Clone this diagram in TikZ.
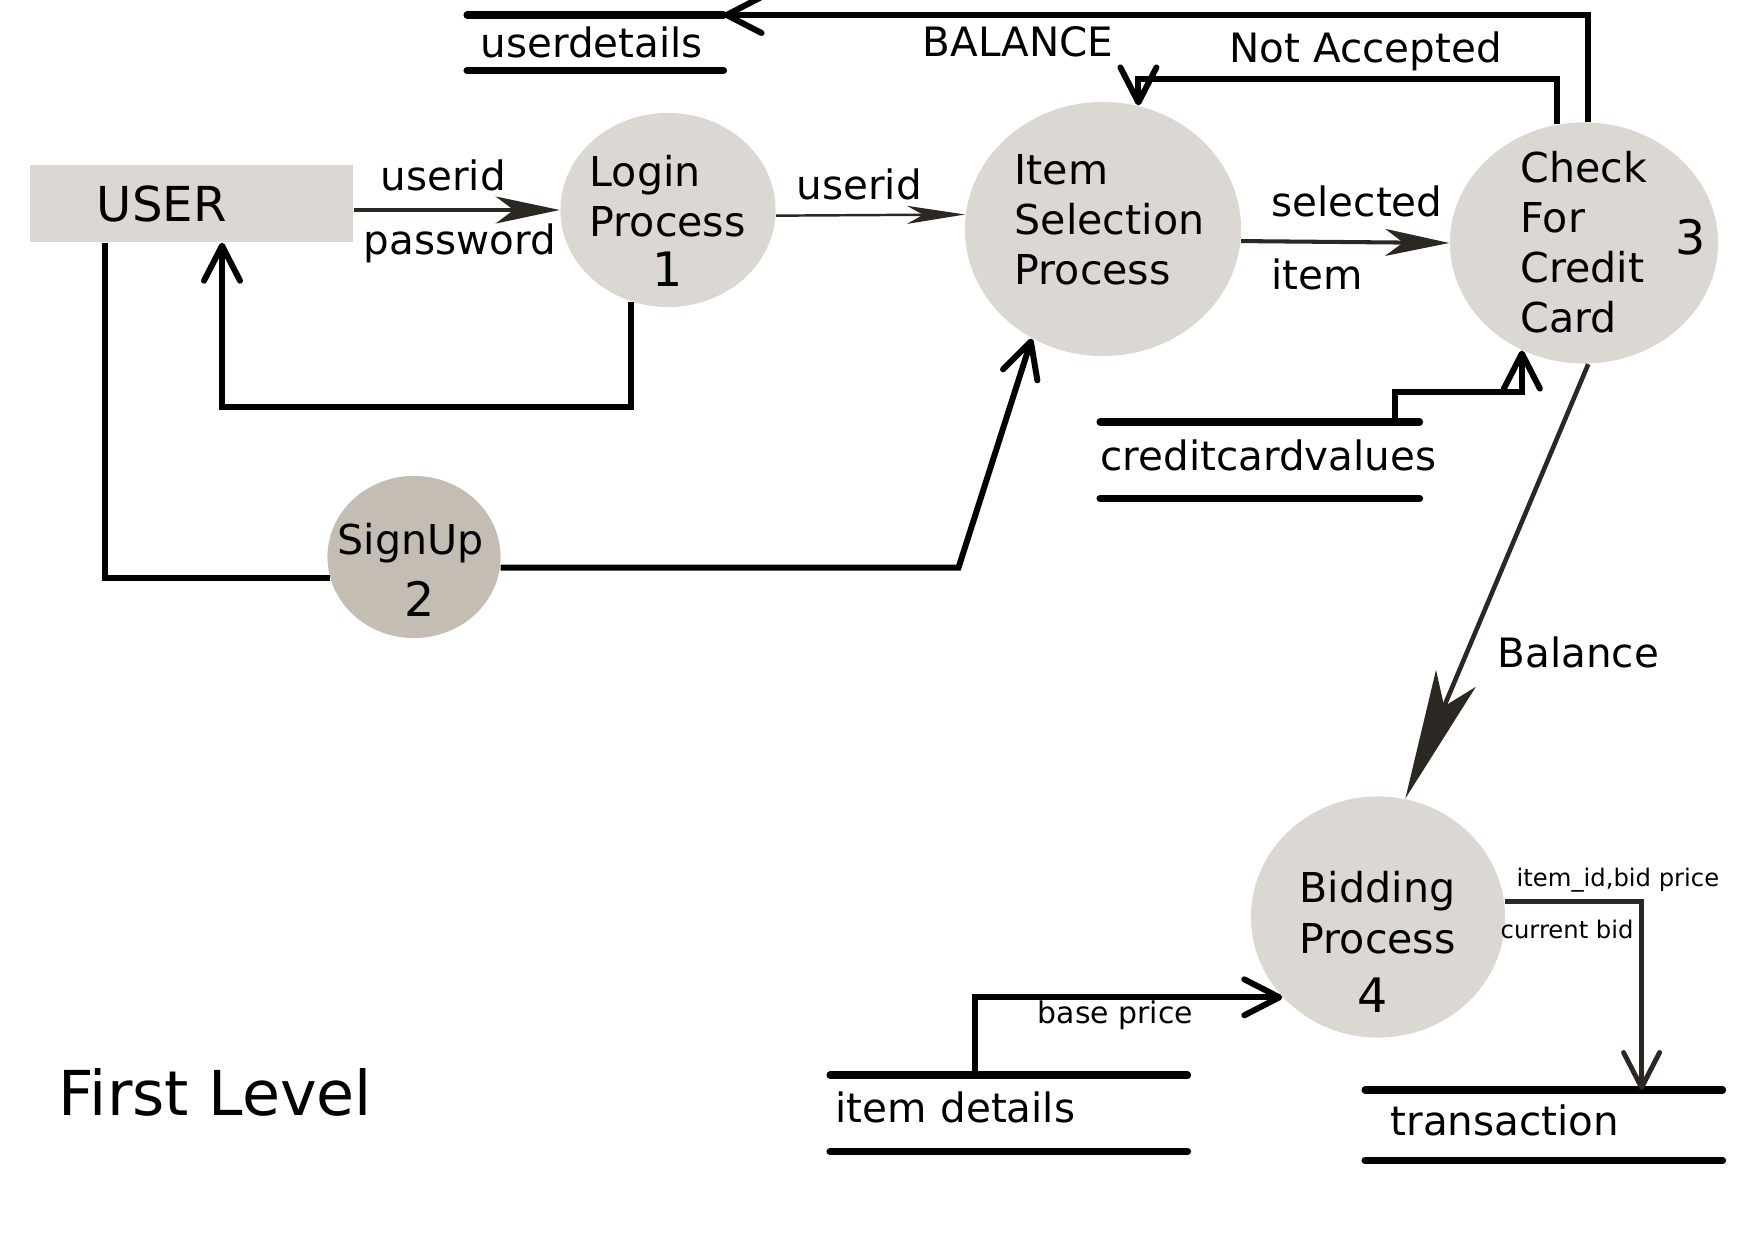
\documentclass[tikz,border=0pt]{standalone}
\usepackage{fontspec}
\setmainfont{DejaVu Sans}
\usetikzlibrary{shapes.geometric,arrows.meta,positioning,calc}
\definecolor{procgray}{RGB}{219,216,211}
\definecolor{signgray}{RGB}{195,189,180}
\definecolor{darkline}{RGB}{43,40,36}

\tikzset{
  proc/.style={ellipse, fill=procgray, inner sep=0pt},
  ptext/.style={font=\fontsize{11.7}{14.3}\selectfont, inner sep=0pt, align=left},
  pnum/.style={font=\fontsize{13.5}{15}\selectfont, inner sep=0pt},
  lbl/.style={font=\fontsize{11.5}{13}\selectfont, inner sep=0pt},
  smalllbl/.style={font=\fontsize{6.9}{8}\selectfont, inner sep=0pt},
  datastore/.style={font=\fontsize{11.5}{13}\selectfont, inner ysep=0pt, align=left, anchor=north west},
  storeline/.style={line width=2pt, line cap=round},
  flow/.style={line width=1.7pt, -{Straight Barb[length=3.5mm,width=3.6mm,round]}},
  link/.style={line width=1.7pt},
  solidflow/.style={darkline, -{Stealth[length=6.4mm,width=2.7mm,inset=1.8mm]}}
}

\begin{document}
\begin{tikzpicture}[x=0.01cm, y=-0.01cm]
  \useasboundingbox (0,0) rectangle (1754,1240);

  % entity and processes
  \node[fill=procgray, minimum height=0.77cm, text width=1.89cm, inner xsep=0.67cm, inner ysep=0pt,
    align=left, font=\fontsize{13.7}{16}\selectfont] (user) at (191.5,203.5) {USER};
  \node[proc, minimum width=2.15cm, minimum height=1.94cm] (login) at (668,210) {};
  \node[proc, minimum width=2.76cm, minimum height=2.54cm] (item) at (1103,229) {};
  \node[proc, minimum width=2.68cm, minimum height=2.41cm] (check) at (1584,243) {};
  \node[proc, minimum width=2.54cm, minimum height=2.41cm] (bid) at (1378,917) {};
  \node[proc, fill=signgray, minimum width=1.73cm, minimum height=1.62cm] (signup) at (414,557) {};

  % process texts (base = last line)
  \node[ptext, anchor=base west] (logintxt) at (589,237) {Login\\Process};
  \node[pnum, anchor=base] (loginno) at (668,287) {1};
  \node[ptext, anchor=base west] (itemtxt) at (1014,285) {Item\\Selection\\Process};
  \node[ptext, anchor=base west] (checktxt) at (1520,333) {Check\\For\\Credit\\Card};
  \node[pnum, anchor=base] (checkno) at (1691,255) {3};
  \node[ptext, anchor=base west] (bidtxt) at (1299,953) {Bidding\\Process};
  \node[pnum, anchor=base] (bidno) at (1373,1012) {4};
  \node[ptext, anchor=base west] (signtxt) at (337,555) {SignUp};
  \node[pnum, anchor=base] (signno) at (420,617) {2};

  % data stores
  \node[datastore, inner xsep=0.13cm, text width=2.29cm, text height=0.42cm, text depth=0.12cm]
    (udtl) at (467,15) {userdetails};
  \node[datastore, inner xsep=0pt, text width=3.18cm, text height=0.48cm, text depth=0.27cm]
    (ccv) at (1100,422) {creditcardvalues};
  \node[datastore, inner xsep=0.05cm, text width=3.46cm, text height=0.47cm, text depth=0.28cm]
    (itd) at (830,1075) {item details};
  \node[datastore, inner xsep=0.25cm, text width=3.06cm, text height=0.45cm, text depth=0.24cm]
    (trans) at (1365,1090) {transaction};
  \foreach \s in {udtl,ccv,itd,trans}
    \draw[storeline] (\s.north west) -- (\s.north east) (\s.south west) -- (\s.south east);

  % flows
  \draw[line width=1.15pt, solidflow] (user.east |- login.west) -- (login.west);
  \draw[flow] (login.248) -- ++(0,105) -| ([xshift=0.305cm]user.south);
  \draw[link] ([xshift=-0.865cm]user.south) |- (signup.194);
  \draw[flow] (signup.-7) -- ++(458,0) -- (item.237);
  \draw[line width=0.7pt, darkline, -{Stealth[length=5.8mm,width=1.8mm,inset=1.6mm]}] (login.-3) -- (item.174);
  \draw[line width=1.15pt, solidflow] (item.-5) -- (check.west);
  \draw[flow] (check.88) |- (udtl.north east);
  \draw[flow] (check.103) -- ++(0,-45) -| (item.74);
  \draw[flow] ([xshift=-0.25cm]ccv.north east) -- ++(0,-30) -| (check.240);
  \draw[line width=1.3pt, darkline, -{Stealth[length=13mm,width=4.3mm,inset=3mm]}] (check.-88) -- (bid.77);
  \draw[flow] ([xshift=1.45cm]itd.north west) |- (bid.220);
  \draw[line width=1.4pt, darkline, -{Straight Barb[length=3.5mm,width=3.6mm,round]}]
    (bid.7) -| ([xshift=-0.81cm]trans.north east);

  % labels
  \node[lbl, anchor=base west] (uidlbl) at (380,191) {userid};
  \node[lbl, anchor=base west] (pwdlbl) at (363,255) {password};
  \node[lbl, anchor=base west] (uidlbltwo) at (796,200) {userid};
  \node[lbl, anchor=base west] (BALlbl) at (922,57) {BALANCE};
  \node[lbl, anchor=base west] (notacc) at (1229,63) {Not Accepted};
  \node[lbl, anchor=base west] (sellbl) at (1271,217) {selected};
  \node[lbl, anchor=base west] (itemlbl) at (1271,290) {item};
  \node[lbl, anchor=base west] (ballbl) at (1497,668) {Balance};
  \node[smalllbl, anchor=base west] (bidplbl) at (1516,887) {item\_id,bid price};
  \node[smalllbl, anchor=base west] (curlbl) at (1500,939) {current bid};
  \node[font=\fontsize{8.5}{10}\selectfont, inner sep=0pt, anchor=base west] (baselbl) at (1037,1023) {base price};
  \node[font=\fontsize{17.6}{20}\selectfont, inner sep=0pt, anchor=base west] (title) at (58,1115) {First Level};
\end{tikzpicture}
\end{document}
